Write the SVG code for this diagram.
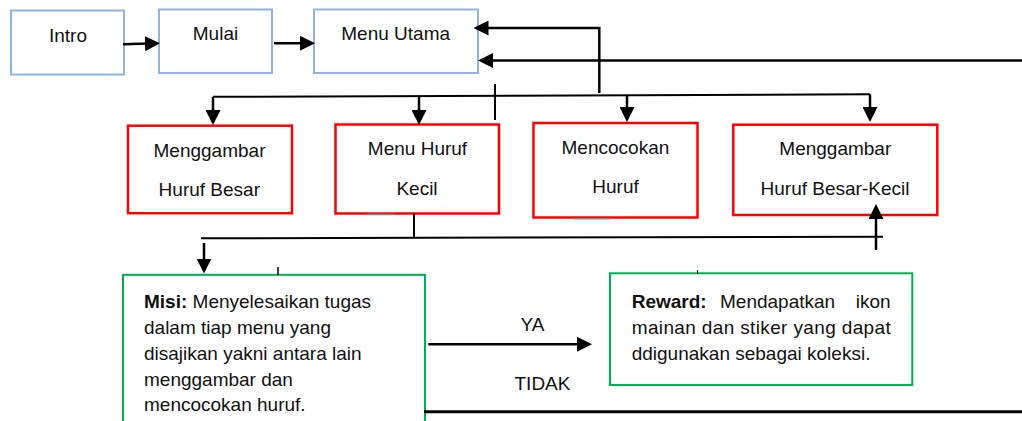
<svg xmlns="http://www.w3.org/2000/svg" width="1022" height="421" viewBox="0 0 1022 421">
<style>
  .bg { fill: #ffffff; }
  .blue { fill: #ffffff; stroke: #8eb4e3; stroke-width: 2; }
  .red { fill: #ffffff; stroke: #ff0000; stroke-width: 2.5; }
  .green { fill: #ffffff; stroke: #00b050; stroke-width: 2; }
  .t { font-family: "Liberation Sans", Arial, sans-serif; font-size: 19px; fill: #111111; }
  .c { text-anchor: middle; }
  .b { font-weight: bold; }
  .ln { fill: none; stroke: #000000; stroke-width: 2.5; }
  .thin { fill: none; stroke: #000000; stroke-width: 2; }
  .arr { marker-end: url(#ah); }
  .art { fill: none; stroke: #8a8a8a; stroke-width: 1.5; }
</style>
<defs>
  <marker id="ah" viewBox="0 0 15 15" refX="12" refY="7.5" markerWidth="15" markerHeight="15" markerUnits="userSpaceOnUse" orient="auto">
    <path d="M0,0 L15,7.5 L0,15 Z" fill="#000000"/>
  </marker>
</defs>
<rect class="bg" x="0" y="0" width="1022" height="421"/>

<g id="intro">
  <rect class="blue" x="11" y="10.5" width="113" height="64"/>
  <text class="t c" x="68" y="42.3">Intro</text>
</g>
<g id="mulai">
  <rect class="blue" x="159" y="9.5" width="113" height="63.5"/>
  <text class="t c" x="215.5" y="40">Mulai</text>
</g>
<g id="menu-utama">
  <rect class="blue" x="314" y="9.5" width="164" height="63.5"/>
  <text class="t c" x="395.7" y="40">Menu Utama</text>
</g>

<g id="menggambar-huruf-besar">
  <rect class="red" x="128" y="125.7" width="164" height="87.5"/>
  <text class="t c" x="209.5" y="156.7">Menggambar</text>
  <text class="t c" x="209.3" y="195.7">Huruf Besar</text>
</g>
<g id="menu-huruf-kecil">
  <rect class="red" x="335.5" y="124.5" width="163.5" height="89"/>
  <text class="t c" x="417.5" y="155">Menu Huruf</text>
  <text class="t c" x="417" y="195">Kecil</text>
</g>
<g id="mencocokan-huruf">
  <rect class="red" x="533.5" y="123" width="164" height="94.5"/>
  <text class="t c" x="615.4" y="154">Mencocokan</text>
  <text class="t c" x="615.5" y="192.7">Huruf</text>
</g>
<g id="menggambar-huruf-besar-kecil">
  <rect class="red" x="733.3" y="124.7" width="204" height="90.3"/>
  <text class="t c" x="835.3" y="155.3">Menggambar</text>
  <text class="t c" x="835" y="195">Huruf Besar-Kecil</text>
</g>

<g id="misi">
  <rect class="green" x="123" y="274.8" width="302" height="160"/>
  <text class="t" x="144" y="307.5"><tspan class="b">Misi:</tspan> Menyelesaikan tugas</text>
  <text class="t" x="144" y="333.5">dalam tiap menu yang</text>
  <text class="t" x="144" y="359.5">disajikan yakni antara lain</text>
  <text class="t" x="144" y="385.5">menggambar dan</text>
  <text class="t" x="144" y="411">mencocokan huruf.</text>
</g>
<g id="reward">
  <rect class="green" x="610" y="273.3" width="302.3" height="111.7"/>
  <text class="t b" x="631.7" y="307.7">Reward:</text>
  <text class="t" x="720" y="307.7">Mendapatkan</text>
  <text class="t" x="890.7" y="307.7" text-anchor="end">ikon</text>
  <text class="t" x="631.7" y="334" textLength="259" lengthAdjust="spacing">mainan dan stiker yang dapat</text>
  <text class="t" x="631.7" y="360">ddigunakan sebagai koleksi.</text>
</g>

<g id="labels">
  <text class="t c" x="532.5" y="331">YA</text>
  <text class="t c" x="542.5" y="390">TIDAK</text>
</g>

<g id="connectors">
  <path class="ln arr" d="M123,44.3 L157,43.3"/>
  <path class="ln arr" d="M274,43.3 L312,43.3"/>
  <path class="ln arr" d="M599.3,93 V28 H476.5"/>
  <path class="ln arr" d="M1022,60.5 H481"/>
  <path class="thin" d="M213,96.8 L870,94.3"/>
  <path class="ln arr" d="M213,96.8 V122"/>
  <path class="ln arr" d="M419,96 V122"/>
  <path class="ln arr" d="M627,95.2 V119"/>
  <path class="ln arr" d="M870,94.3 V119"/>
  <path class="thin" d="M495,84 V120"/>
  <path class="thin" d="M201,238.3 L883,236.7"/>
  <path class="thin" d="M414,213.5 V238"/>
  <path class="ln arr" d="M204,243 V270.5"/>
  <path class="ln arr" d="M876,250 V207"/>
  <path class="ln arr" d="M428.3,344.3 H589"/>
  <path class="ln" d="M424,411.7 H1022" style="stroke-width:3"/>
  <path class="thin" d="M278,267 V275" style="stroke-width:1.5"/>
  <path class="thin" d="M697.5,270 V274" style="stroke-width:1"/>
  <path class="art" d="M367,214.5 H393"/>
  <path class="art" d="M574,218.8 H610"/>
</g>
</svg>
